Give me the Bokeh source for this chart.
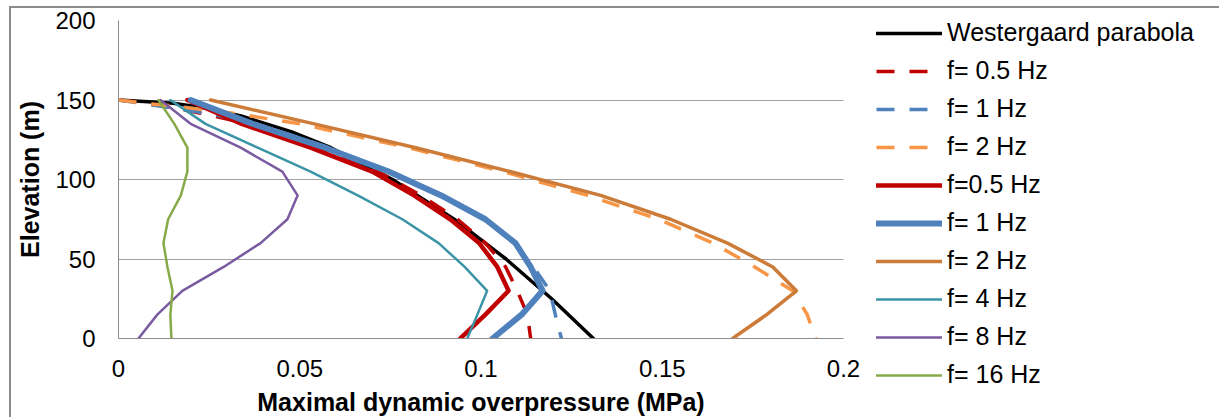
from bokeh.plotting import figure
from bokeh.models import Range1d, FixedTicker, Legend, LegendItem
from bokeh.embed import file_html
from bokeh.resources import INLINE

# ---------------- data ----------------
x_ticks = [0, 0.05, 0.1, 0.15, 0.2]
x_tick_labels = ["0", "0.05", "0.1", "0.15", "0.2"]
y_ticks = [0, 50, 100, 150, 200]
y_tick_labels = ["0", "50", "100", "150", "200"]

elev_nodes = [150, 135, 120, 105, 90, 75, 60, 45, 30, 15, 0]

westergaard_z = [150, 148, 145, 140, 130, 120, 100, 75, 50, 25, 0]
westergaard_p = [0, 0.0151, 0.0239, 0.0338, 0.0478, 0.0586, 0.0756, 0.0926, 0.1069, 0.1195, 0.131]

dash_05_z = [150, 149, 146, 142, 135, 120, 105, 90, 75, 60, 45, 30, 15, 0]
dash_05_p = [0, 0.004, 0.013, 0.022, 0.036, 0.055, 0.0715, 0.0835, 0.0935, 0.1012, 0.1068, 0.110, 0.1128, 0.1137]
dash_1_z = [150, 147, 141, 135, 120, 105, 90, 75, 60, 45, 30, 15, 0]
dash_1_p = [0, 0.009, 0.026, 0.038, 0.058, 0.075, 0.0895, 0.101, 0.109, 0.1145, 0.119, 0.1205, 0.1222]
dash_2_z = [150, 148, 146, 141, 135, 120, 105, 90, 75, 60, 45, 30, 15, 0]
dash_2_p = [0, 0.0069, 0.0163, 0.0337, 0.050, 0.080, 0.106, 0.1294, 0.149, 0.164, 0.1755, 0.186, 0.190, 0.1923]

solid_05_p = [0.019, 0.034, 0.053, 0.070, 0.0815, 0.0915, 0.0995, 0.1045, 0.1076, 0.1012, 0.0943]
solid_1_p = [0.0199, 0.037, 0.057, 0.0745, 0.089, 0.1012, 0.1095, 0.1137, 0.117, 0.1112, 0.1032]
solid_2_p = [0.0254, 0.054, 0.082, 0.108, 0.133, 0.1523, 0.168, 0.1805, 0.187, 0.1788, 0.1694]
f4_p = [0.0143, 0.024, 0.0384, 0.053, 0.066, 0.0783, 0.0883, 0.0955, 0.1017, 0.099, 0.0962]
f8_p = [0.0116, 0.0199, 0.0337, 0.0452, 0.0494, 0.0466, 0.0392, 0.029, 0.0176, 0.0107, 0.0055]
f16_p = [0.011, 0.0154, 0.019, 0.019, 0.0172, 0.0137, 0.0124, 0.0135, 0.0149, 0.0143, 0.0146]

legend_labels = ["Westergaard parabola", "f= 0.5 Hz", "f= 1 Hz", "f= 2 Hz", "f=0.5 Hz",
                 "f= 1 Hz", "f= 2 Hz", "f= 4 Hz", "f= 8 Hz", "f= 16 Hz"]

x_title = "Maximal dynamic overpressure (MPa)"
y_title = "Elevation (m)"

FONT = "Liberation Sans"

# ---------------- figure ----------------
p = figure(frame_width=725, frame_height=318, output_backend="svg", toolbar_location=None,
           x_range=Range1d(0, 0.2), y_range=Range1d(0, 200),
           min_border_left=107, min_border_right=0, min_border_top=12, min_border_bottom=79,
           outline_line_color=None, background_fill_color="white", border_fill_color="white")
p.styles = {"border-top": "2px solid #8c8c8c", "border-left": "2px solid #8c8c8c",
            "margin-top": "6px", "margin-left": "9px"}

p.xgrid.grid_line_color = None
p.ygrid.grid_line_color = "#a0a0a0"
p.ygrid.grid_line_width = 1
p.ygrid.ticker = FixedTicker(ticks=y_ticks)

p.xaxis.ticker = FixedTicker(ticks=x_ticks)
p.yaxis.ticker = FixedTicker(ticks=y_ticks)
p.xaxis.major_label_overrides = dict(zip(x_ticks, x_tick_labels))
p.yaxis.major_label_overrides = dict(zip(y_ticks, y_tick_labels))
for ax in (p.xaxis, p.yaxis):
    ax.axis_line_color = "#8c8c8c"
    ax.axis_line_width = 1
    ax.major_tick_out = 0
    ax.major_tick_in = 0
    ax.minor_tick_out = 0
    ax.minor_tick_in = 0
    ax.major_label_text_font = FONT
    ax.major_label_text_font_size = "24px"
    ax.major_label_text_color = "black"
    ax.axis_label_text_font = FONT
    ax.axis_label_text_font_size = "25px"
    ax.axis_label_text_font_style = "bold"
    ax.axis_label_text_color = "black"
p.yaxis.major_label_standoff = 23
p.xaxis.major_label_standoff = 21

p.yaxis.axis_label = y_title
p.yaxis.axis_label_standoff = 8
p.xaxis.axis_label = x_title
p.xaxis.axis_label_standoff = 8

# ---------------- series ----------------
series = [
    (westergaard_z, westergaard_p, "#000000", 3.5, "solid"),
    (dash_05_z, dash_05_p, "#c00000", 3.5, "18 15"),
    (dash_1_z, dash_1_p, "#4f81bd", 3.5, "18 15"),
    (dash_2_z, dash_2_p, "#f79646", 3.5, "18 15"),
    (elev_nodes, solid_05_p, "#c00000", 4.5, "solid"),
    (elev_nodes, solid_1_p, "#4f81bd", 6, "solid"),
    (elev_nodes, solid_2_p, "#cc7b38", 3.5, "solid"),
    (elev_nodes, f4_p, "#3a94a6", 2.5, "solid"),
    (elev_nodes, f8_p, "#7a5aa0", 2.5, "solid"),
    (elev_nodes, f16_p, "#86aa48", 2.5, "solid"),
]

items = []
for (z, pv, col, w, dash), lab in zip(series, legend_labels):
    cap = "butt" if dash != "solid" else "round"
    r = p.line(pv, z, line_color=col, line_width=w, line_dash=dash,
               line_join="round", line_cap=cap)
    items.append(LegendItem(label=lab, renderers=[r]))

legend = Legend(items=items, location=(33, -51), orientation="vertical",
                glyph_width=66, glyph_height=28, label_height=28, label_standoff=5,
                spacing=9, padding=0, margin=0, border_line_color=None,
                background_fill_alpha=0, label_text_font=FONT,
                label_text_font_size="25px", label_text_color="black")
p.add_layout(legend, "right")

open("out.html", "w").write(file_html(p, INLINE))
